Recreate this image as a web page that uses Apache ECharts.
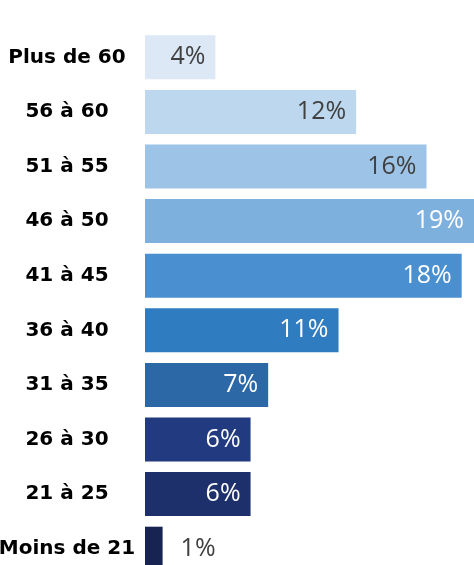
<!DOCTYPE html>
<html>
<head>
<meta charset="utf-8">
<script src="https://cdn.jsdelivr.net/npm/echarts@6/dist/echarts.min.js"></script>
<style>
  html, body { margin: 0; padding: 0; background: #fff; }
  #chart { width: 474px; height: 565px; }
</style>
</head>
<body>
<div id="chart"></div>
<script>
// Age groups, top to bottom
const categories = ['Plus de 60', '56 à 60', '51 à 55', '46 à 50', '41 à 45',
                    '36 à 40', '31 à 35', '26 à 30', '21 à 25', 'Moins de 21'];
// Share of respondents in each age group (%)
const shares = [4, 12, 16, 19, 18, 11, 7, 6, 6, 1];
// Fill colour per age group, light to dark
const barColors = ['#dce8f5', '#bdd7ee', '#9dc3e6', '#7eb0de', '#4a8fd0',
                   '#2f7cc0', '#2c68a5', '#213a80', '#1e306c', '#172350'];
// Label colour: dark on light bars, white on dark ones
const labelColors = ['#404040', '#404040', '#404040', '#ffffff', '#ffffff',
                     '#ffffff', '#ffffff', '#ffffff', '#ffffff', '#404040'];

const chart = echarts.init(document.getElementById('chart'));

const data = shares.map((v, i) => ({
  value: v,
  itemStyle: { color: barColors[i] },
  label: v < 3
    ? { position: 'right', distance: 18, color: labelColors[i] }
    : { position: 'insideRight', distance: 10, color: labelColors[i] }
}));

chart.setOption({
  animation: false,
  grid: { left: 145, right: 0, top: 30, height: 546, outerBoundsMode: 'none', containLabel: false },
  xAxis: {
    type: 'value', min: 0, max: 18.7, show: false
  },
  yAxis: {
    type: 'category',
    data: categories,
    inverse: true,
    axisLine: { show: false },
    axisTick: { show: false },
    axisLabel: {
      align: 'center',
      margin: 78,
      color: '#000',
      fontFamily: 'DejaVu Sans',
      fontWeight: 'bold',
      fontSize: 20
    }
  },
  series: [{
    type: 'bar',
    data: data,
    barWidth: 44,
    label: {
      show: true,
      formatter: p => p.value + '%',
      fontFamily: 'Open Sans',
      fontSize: 25
    }
  }]
});
</script>
</body>
</html>
